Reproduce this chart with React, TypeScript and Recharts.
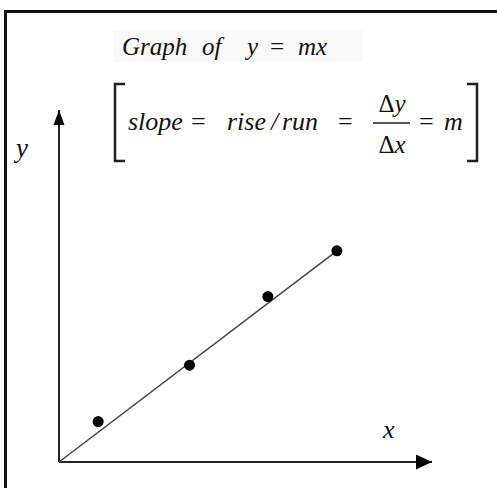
import React from 'react';
import { ScatterChart, Scatter, XAxis, YAxis, ReferenceDot, ReferenceLine, Customized } from 'recharts';

// dots (axis units, 0..10 on both axes)
const pointX = [1.05, 3.5, 5.6, 7.45];
const pointY = [1.15, 2.75, 4.7, 6.0];
// the line y = mx, from the origin to the last dot
const lineX = [0, 7.45];
const lineY = [0, 6.0];

const axisMax = 10;

const points = pointX.map((x, i) => ({ x, y: pointY[i] }));
const linePoints = lineX.map((x, i) => ({ x, y: lineY[i] }));

const serif = '"Liberation Serif", "Times New Roman", serif';
const ink = '#111';

const Dot = (p: any) => <circle cx={p.cx} cy={p.cy} r={5.5} fill="#000" />;
const NoDot = () => <g />;

const ArrowRight = (p: any) => (
  <polygon points={`${p.cx},${p.cy} ${p.cx - 16},${p.cy - 7.5} ${p.cx - 16},${p.cy + 7.5}`} fill="#000" />
);
const ArrowUp = (p: any) => (
  <polygon points={`${p.cx},${p.cy} ${p.cx - 5.5},${p.cy + 15} ${p.cx + 5.5},${p.cy + 15}`} fill="#000" />
);

const Annotations = () => (
  <g fontFamily={serif} fill={ink}>
    <rect x={113} y={30} width={250} height={32} fill="#f9f9f9" />
    {/* title */}
    <text y={55} fontSize={25}>
      <tspan x={122} fontStyle="italic">Graph</tspan>
      <tspan x={202} fontStyle="italic">of</tspan>
      <tspan x={247} fontStyle="italic">y</tspan>
      <tspan x={270}>=</tspan>
      <tspan x={298} fontStyle="italic">mx</tspan>
    </text>
    {/* brackets */}
    <path d="M125,84 H115 V161 H125" fill="none" stroke="#222" strokeWidth={2.5} />
    <path d="M467,84 H477 V161 H467" fill="none" stroke="#222" strokeWidth={2.5} />
    {/* slope formula */}
    <text y={130} fontSize={26}>
      <tspan x={128} fontStyle="italic">slope</tspan>
      <tspan x={191}>=</tspan>
      <tspan x={227} fontStyle="italic">rise</tspan>
      <tspan x={271} fontStyle="italic">/</tspan>
      <tspan x={282} fontStyle="italic">run</tspan>
      <tspan x={338}>=</tspan>
      <tspan x={419}>=</tspan>
      <tspan x={444} fontStyle="italic">m</tspan>
    </text>
    <text x={392} y={112} fontSize={25} textAnchor="middle">
      Δ<tspan fontStyle="italic">y</tspan>
    </text>
    <line x1={373} x2={410} y1={123} y2={123} stroke="#222" strokeWidth={1.5} />
    <text x={392} y={153} fontSize={25} textAnchor="middle">
      Δ<tspan fontStyle="italic">x</tspan>
    </text>
    {/* axis names */}
    <text x={16} y={157} fontSize={27} fontStyle="italic">y</text>
    <text x={383} y={438} fontSize={26} fontStyle="italic">x</text>
  </g>
);

export default function App() {
  return (
    <div style={{ position: 'absolute', left: 0, top: 0, width: 497, height: 488, background: '#fff', overflow: 'hidden' }}>
      <div
        style={{
          position: 'absolute',
          left: 4,
          top: 10,
          width: 497,
          height: 488,
          borderTop: '3px solid #111',
          borderLeft: '3px solid #111',
        }}
      />
      <div style={{ position: 'absolute', left: 0, top: 0 }}>
        <ScatterChart width={497} height={488} margin={{ top: 110, right: 65, bottom: 26, left: 59 }}>
          <XAxis type="number" dataKey="x" domain={[0, axisMax]} hide />
          <YAxis type="number" dataKey="y" domain={[0, axisMax]} hide />
          <ReferenceLine x={0} stroke="#222" strokeWidth={2} ifOverflow="visible" />
          <ReferenceLine y={0} stroke="#222" strokeWidth={2} ifOverflow="visible" />
          <Scatter
            data={linePoints}
            line={{ stroke: '#444', strokeWidth: 1.5 }}
            shape={NoDot}
            isAnimationActive={false}
          />
          <Scatter data={points} shape={Dot} isAnimationActive={false} />
          <ReferenceDot x={axisMax} y={0} ifOverflow="visible" shape={ArrowRight} />
          <ReferenceDot x={0} y={axisMax} ifOverflow="visible" shape={ArrowUp} />
          <Customized component={<Annotations />} />
        </ScatterChart>
      </div>
    </div>
  );
}
